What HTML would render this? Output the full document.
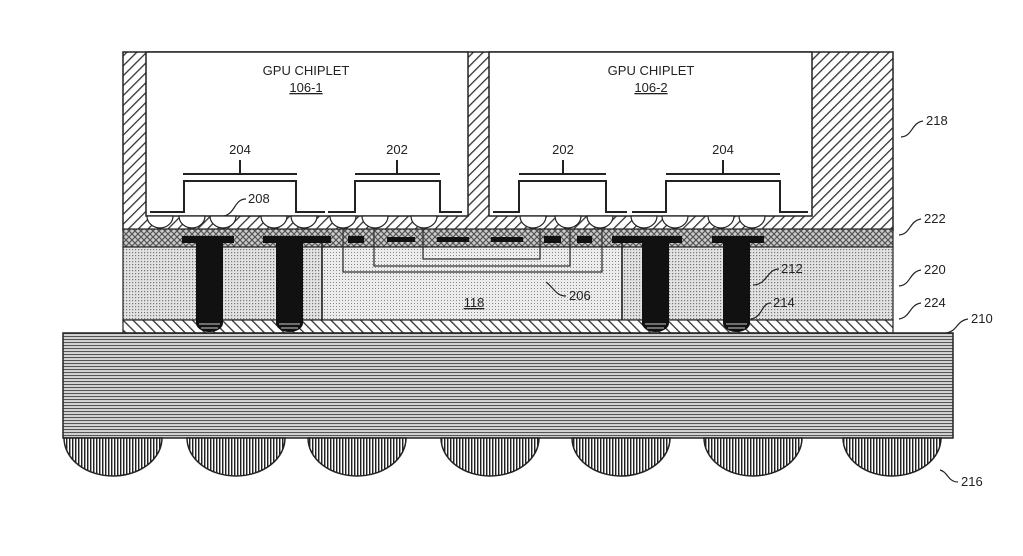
<!DOCTYPE html>
<html><head><meta charset="utf-8"><style>
html,body{margin:0;padding:0;background:#fff}
text{font-family:"Liberation Sans",sans-serif;fill:#222}
</style></head><body>
<svg width="1023" height="551" viewBox="0 0 1023 551" xmlns="http://www.w3.org/2000/svg">
<defs>
<pattern id="diag" width="7" height="7" patternUnits="userSpaceOnUse" patternTransform="rotate(45)"><rect width="7" height="7" fill="#fff"/><line x1="0" y1="0" x2="0" y2="7" stroke="#333" stroke-width="2.6"/></pattern>
<pattern id="diag2" width="7" height="7" patternUnits="userSpaceOnUse" patternTransform="rotate(-45)"><rect width="7" height="7" fill="#fff"/><line x1="0" y1="0" x2="0" y2="7" stroke="#333" stroke-width="2.6"/></pattern>
<pattern id="cross" width="6" height="6" patternUnits="userSpaceOnUse"><rect width="6" height="6" fill="#ccc"/><path d="M0 0L6 6M6 0L0 6" stroke="#555" stroke-width="1.2"/></pattern>
<pattern id="dots" width="3" height="3" patternUnits="userSpaceOnUse"><rect width="3" height="3" fill="#e2e2e2"/><rect width="1.2" height="1.2" fill="#777"/></pattern>
<pattern id="dots2" width="3" height="3" patternUnits="userSpaceOnUse"><rect width="3" height="3" fill="#ececec"/><rect width="1" height="1" fill="#888"/></pattern>
<pattern id="hor" width="4" height="3" patternUnits="userSpaceOnUse"><rect width="4" height="3" fill="#d4d4d4"/><line x1="0" y1="0.5" x2="4" y2="0.5" stroke="#555" stroke-width="1.1"/></pattern>
<pattern id="ver" width="3" height="4" patternUnits="userSpaceOnUse"><rect width="3" height="4" fill="#fff"/><line x1="0.7" y1="0" x2="0.7" y2="4" stroke="#222" stroke-width="1.5"/></pattern>
</defs>
<rect x="123" y="52" width="770" height="178" fill="url(#diag)" stroke="#222" stroke-width="1.5"/>
<rect x="146" y="52" width="322" height="164" fill="#fff" stroke="#222" stroke-width="1.5"/>
<rect x="489" y="52" width="323" height="164" fill="#fff" stroke="#222" stroke-width="1.5"/>
<g fill="#fff" stroke="#222" stroke-width="1.2">
<path d="M147 216a13 12 0 0 0 26 0z"/><path d="M179 216a13 12 0 0 0 26 0z"/><path d="M210 216a13 12 0 0 0 26 0z"/><path d="M261 216a13 12 0 0 0 26 0z"/><path d="M291 216a13 12 0 0 0 26 0z"/>
<path d="M330 216a13 12 0 0 0 26 0z"/><path d="M362 216a13 12 0 0 0 26 0z"/><path d="M411 216a13 12 0 0 0 26 0z"/>
<path d="M520 216a13 12 0 0 0 26 0z"/><path d="M555 216a13 12 0 0 0 26 0z"/><path d="M587 216a13 12 0 0 0 26 0z"/>
<path d="M631 216a13 12 0 0 0 26 0z"/><path d="M662 216a13 12 0 0 0 26 0z"/><path d="M708 216a13 12 0 0 0 26 0z"/><path d="M739 216a13 12 0 0 0 26 0z"/>
</g>
<g fill="none" stroke="#222" stroke-width="2">
<path d="M150 212H184V181H296V212H325"/><path d="M183 174H297M240 174V160"/>
<path d="M328 212H355V181H440V212H462"/><path d="M355 174H440M397 174V160"/>
<path d="M493 212H519V181H606V212H627"/><path d="M519 174H606M563 174V160"/>
<path d="M632 212H666V181H780V212H808"/><path d="M666 174H780M723 174V160"/>
</g>
<rect x="123" y="229" width="770" height="18" fill="url(#cross)" stroke="#222" stroke-width="1.2"/>
<rect x="123" y="247" width="770" height="73" fill="url(#dots)" stroke="#222" stroke-width="1.2"/>
<rect x="322" y="247" width="300" height="73" fill="url(#dots2)" stroke="#222" stroke-width="1.2"/>
<line x1="322" y1="236" x2="322" y2="320" stroke="#222" stroke-width="1.5"/>
<line x1="622" y1="236" x2="622" y2="320" stroke="#222" stroke-width="1.5"/>
<rect x="123" y="320" width="770" height="13" fill="url(#diag2)" stroke="#222" stroke-width="1.2"/>
<g fill="none" stroke="#333" stroke-width="1.3">
<path d="M343 228V272H602V228"/><path d="M374 228V266H570V228"/><path d="M423 228V259H540V228"/>
</g>
<g fill="#111">
<rect x="182" y="236" width="52" height="7"/><rect x="263" y="236" width="68" height="7"/>
<rect x="348" y="236" width="16" height="7"/><rect x="387" y="237" width="28" height="5"/><rect x="437" y="237" width="32" height="5"/><rect x="491" y="237" width="32" height="5"/>
<rect x="544" y="236" width="17" height="7"/><rect x="577" y="236" width="15" height="7"/>
<rect x="612" y="236" width="70" height="7"/><rect x="712" y="236" width="52" height="7"/>
</g>
<g fill="#111">
<rect x="196" y="236" width="27" height="86"/><path d="M196 320h27v3a13.5 9 0 0 1 -27 0z"/>
<rect x="276" y="236" width="27" height="86"/><path d="M276 320h27v3a13.5 9 0 0 1 -27 0z"/>
<rect x="642" y="236" width="27" height="86"/><path d="M642 320h27v3a13.5 9 0 0 1 -27 0z"/>
<rect x="723" y="236" width="27" height="86"/><path d="M723 320h27v3a13.5 9 0 0 1 -27 0z"/>
</g>
<g stroke="#ccc" stroke-width="1"><path d="M199 324h21M279 324h21M645 324h21M726 324h21M201 328h17M281 328h17M647 328h17M728 328h17"/></g>
<rect x="63" y="333" width="890" height="105" fill="url(#hor)" stroke="#222" stroke-width="1.5"/>
<g fill="url(#ver)" stroke="#222" stroke-width="1.5">
<path d="M64 438a49 38 0 0 0 98 0z"/><path d="M187 438a49 38 0 0 0 98 0z"/><path d="M308 438a49 38 0 0 0 98 0z"/><path d="M441 438a49 38 0 0 0 98 0z"/><path d="M572 438a49 38 0 0 0 98 0z"/><path d="M704 438a49 38 0 0 0 98 0z"/><path d="M843 438a49 38 0 0 0 98 0z"/>
</g>
<g font-size="13" text-anchor="middle">
<text x="306" y="75">GPU CHIPLET</text><text x="306" y="92" text-decoration="underline">106-1</text>
<text x="651" y="75">GPU CHIPLET</text><text x="651" y="92" text-decoration="underline">106-2</text>
<text x="240" y="154">204</text><text x="397" y="154">202</text><text x="563" y="154">202</text><text x="723" y="154">204</text>
<text x="474" y="307" text-decoration="underline">118</text>
</g>
<g font-size="13">
<text x="248" y="203">208</text><text x="569" y="300">206</text><text x="781" y="273">212</text><text x="773" y="307">214</text>
<text x="926" y="125">218</text><text x="924" y="223">222</text><text x="924" y="274">220</text><text x="924" y="307">224</text><text x="971" y="323">210</text><text x="961" y="486">216</text>
</g>
<g fill="none" stroke="#222" stroke-width="1.2">
<path d="M246 199c-12 0-10 14-22 17"/><path d="M566 296c-10 0-12-8-20-14"/><path d="M779 269c-12 0-12 16-26 16"/><path d="M771 303c-10 0-8 14-20 16"/>
<path d="M923 121c-12 2-10 15-22 16"/><path d="M921 219c-12 2-10 15-22 16"/><path d="M921 270c-12 2-10 15-22 16"/><path d="M921 303c-12 2-10 14-22 16"/><path d="M968 319c-12 2-10 12-22 14"/><path d="M958 482c-10 0-10-10-18-12"/>
</g>
</svg>
</body></html>
